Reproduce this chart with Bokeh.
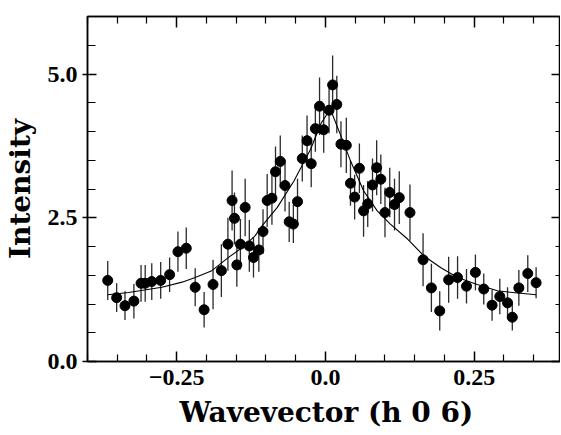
from bokeh.plotting import figure
from bokeh.models import FixedTicker, LinearAxis, Range1d, Title, ColumnDataSource
from bokeh.embed import file_html
from bokeh.resources import INLINE

# ---- data ----
q = [-0.366, -0.351, -0.337, -0.322, -0.310, -0.303, -0.292, -0.277, -0.262, -0.248,
     -0.234, -0.219, -0.204, -0.189, -0.175, -0.164, -0.157, -0.153, -0.149, -0.143,
     -0.135, -0.128, -0.121, -0.112, -0.105, -0.098, -0.090, -0.084, -0.076, -0.068,
     -0.061, -0.054, -0.047, -0.039, -0.031, -0.024, -0.017, -0.010, -0.003, 0.006,
     0.012, 0.019, 0.026, 0.035, 0.042, 0.049, 0.057, 0.064, 0.071, 0.079,
     0.086, 0.093, 0.100, 0.108, 0.116, 0.124, 0.142, 0.164, 0.178, 0.192,
     0.207, 0.222, 0.237, 0.252, 0.266, 0.280, 0.293, 0.306, 0.314, 0.325,
     0.340, 0.354]
intensity = [1.41, 1.11, 0.97, 1.05, 1.36, 1.36, 1.39, 1.41, 1.51, 1.91,
             1.97, 1.29, 0.90, 1.34, 1.58, 2.04, 2.80, 2.49, 1.68, 2.04,
             2.68, 2.01, 1.81, 1.94, 2.26, 2.80, 2.84, 3.30, 3.48, 3.06,
             2.43, 2.39, 2.78, 3.53, 3.84, 3.44, 4.05, 4.44, 4.03, 4.37,
             4.81, 4.47, 3.78, 3.76, 3.10, 2.86, 3.36, 2.62, 2.74, 3.07,
             3.37, 3.17, 2.59, 2.94, 2.73, 2.85, 2.59, 1.77, 1.28, 0.88,
             1.42, 1.46, 1.31, 1.55, 1.26, 0.98, 1.13, 1.02, 0.77, 1.28,
             1.53, 1.37]
error = [0.34, 0.25, 0.25, 0.30, 0.32, 0.32, 0.32, 0.32, 0.30, 0.35,
         0.36, 0.33, 0.31, 0.43, 0.46, 0.46, 0.52, 0.45, 0.38, 0.44,
         0.50, 0.45, 0.35, 0.38, 0.39, 0.46, 0.46, 0.44, 0.45, 0.45,
         0.35, 0.33, 0.40, 0.40, 0.44, 0.41, 0.40, 0.50, 0.40, 0.40,
         0.51, 0.50, 0.40, 0.48, 0.39, 0.39, 0.43, 0.45, 0.40, 0.46,
         0.48, 0.43, 0.43, 0.43, 0.45, 0.46, 0.49, 0.46, 0.42, 0.34,
         0.40, 0.37, 0.30, 0.31, 0.27, 0.27, 0.31, 0.27, 0.23, 0.31,
         0.32, 0.27]

fit_q = [-0.366, -0.331, -0.275, -0.241, -0.219, -0.191, -0.163, -0.140, -0.118, -0.109,
         -0.081, -0.053, -0.025, -0.008, 0.008, 0.025, 0.042, 0.064, 0.087, 0.109,
         0.138, 0.165, 0.194, 0.222, 0.255, 0.289, 0.323, 0.354]
fit_i = [1.16, 1.20, 1.29, 1.38, 1.46, 1.58, 1.81, 1.98, 2.19, 2.33,
         2.68, 3.14, 3.69, 4.13, 4.39, 3.95, 3.49, 2.97, 2.62, 2.39,
         2.13, 1.84, 1.63, 1.46, 1.34, 1.23, 1.19, 1.16]

x_major = [-0.25, 0.0, 0.25]
x_major_labels = ["\u22120.25", "0.0", "0.25"]
x_minor = [-0.40, -0.35, -0.30, -0.20, -0.15, -0.10, -0.05, 0.05, 0.10, 0.15, 0.20, 0.30, 0.35]
y_major = [0.0, 2.5, 5.0]
y_major_labels = ["0.0", "2.5", "5.0"]
y_minor = [0.5, 1.0, 1.5, 2.0, 3.0, 3.5, 4.0, 4.5, 5.5]

x_title = "Wavevector (h 0 6)"
y_title = "Intensity"

TITLE_FONT = "DejaVu Serif"
TICK_FONT = "Liberation Serif"

p = figure(frame_width=473, frame_height=345,
           x_range=Range1d(-0.40, 0.395), y_range=Range1d(0.0, 6.0),
           output_backend="svg", toolbar_location=None,
           min_border_left=79, min_border_top=16, min_border_bottom=0, min_border_right=0,
           x_axis_location=None, y_axis_location=None)
p.grid.visible = False
p.outline_line_color = "black"
p.outline_line_width = 1.5
p.background_fill_color = "white"
p.border_fill_color = "white"

def style_axis(ax, ticks, minor, labels, show_labels, maj_in, maj_out, min_in, standoff=5):
    ax.ticker = FixedTicker(ticks=ticks, minor_ticks=minor)
    ax.major_tick_in = maj_in
    ax.major_tick_out = maj_out
    ax.minor_tick_in = min_in
    ax.minor_tick_out = 0
    ax.major_tick_line_width = 1.5
    ax.minor_tick_line_width = 1.2
    ax.axis_line_width = 1.5
    ax.axis_line_color = "black"
    ax.major_tick_line_color = "black"
    ax.minor_tick_line_color = "black"
    if show_labels:
        ax.major_label_overrides = {t: s for t, s in zip(ticks, labels)}
        ax.major_label_text_font = TICK_FONT
        ax.major_label_text_font_style = "bold"
        ax.major_label_text_font_size = "24px"
        ax.major_label_text_color = "black"
        ax.major_label_standoff = standoff
    else:
        ax.major_label_overrides = {t: "" for t in ticks}
        ax.major_label_text_color = None
        ax.major_label_text_font_size = "1px"
        ax.major_label_standoff = 0

bottom = LinearAxis()
style_axis(bottom, x_major, x_minor, x_major_labels, True, 10, 0, 7, standoff=8)
p.add_layout(bottom, "below")

top = LinearAxis()
style_axis(top, x_major, x_minor, x_major_labels, False, 11, 0, 7)
p.add_layout(top, "above")

left = LinearAxis(axis_label=y_title)
style_axis(left, y_major, y_minor, y_major_labels, True, 9, 5, 8, standoff=5)
left.axis_label_text_font = TITLE_FONT
left.axis_label_text_font_style = "bold"
left.axis_label_text_font_size = "28px"
left.axis_label_text_color = "black"
left.axis_label_standoff = 8
p.add_layout(left, "left")

right = LinearAxis()
style_axis(right, y_major, y_minor, y_major_labels, False, 9, 0, 5)
p.add_layout(right, "right")

src = ColumnDataSource(dict(
    q=q, i=intensity,
    lo=[a - b for a, b in zip(intensity, error)],
    hi=[a + b for a, b in zip(intensity, error)]))

p.segment(x0="q", y0="lo", x1="q", y1="hi", source=src, line_color="#2a2a2a", line_width=1.3)
p.line(fit_q, fit_i, line_color="black", line_width=1.1)
p.scatter(x="q", y="i", source=src, size=10, fill_color="black", line_color="black")

xlab = Title(text=x_title, align="left", offset=92, standoff=13,
             text_font=TITLE_FONT, text_font_style="bold", text_font_size="28px",
             text_color="black")
p.add_layout(xlab, "below")

open("out.html", "w").write(file_html(p, INLINE))
